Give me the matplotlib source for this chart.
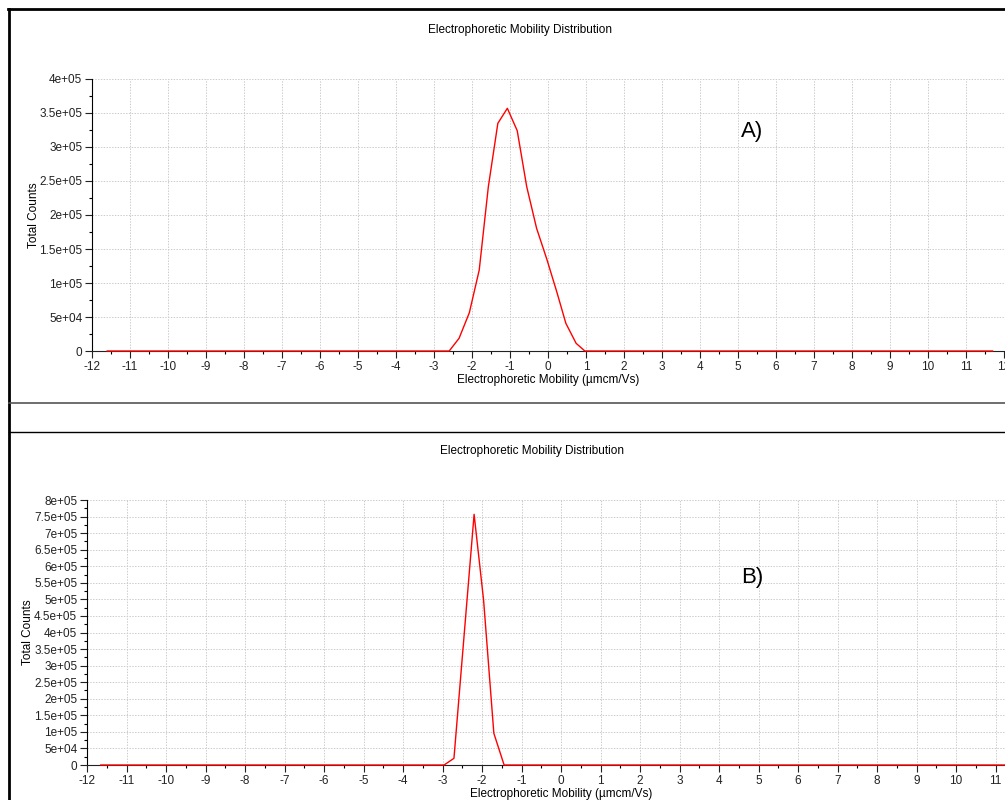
import numpy as np
import matplotlib
matplotlib.use("Agg")
import matplotlib.pyplot as plt
from matplotlib.ticker import MultipleLocator, FuncFormatter
from matplotlib.lines import Line2D

plt.rcParams['font.family'] = ['Liberation Sans', 'DejaVu Sans']

# data
top_x = [-11.6, -2.6, -2.34, -2.07, -1.81, -1.57, -1.32, -1.07, -0.81,
         -0.56, -0.30, -0.03, 0.23, 0.47, 0.74, 0.97, 11.7]
top_y = [0, 0, 18700, 56300, 119000, 241600, 334800, 356900, 324000,
         241600, 180400, 134800, 87200, 40700, 11300, 0, 0]

bot_x = [-11.65, -2.96, -2.71, -2.20, -1.96, -1.70, -1.44, 12.0]
bot_y = [0, 0, 20200, 756800, 498000, 95700, 0, 0]

title = "Electrophoretic Mobility Distribution"
xlabel = "Electrophoretic Mobility (\u00b5mcm/Vs)"
ylabel = "Total Counts"

W, H = 1005, 800
fig = plt.figure(figsize=(W / 100, H / 100), dpi=100)
fs = 8.5


def fmt(v, pos):
    if v == 0:
        return "0"
    return "{:.2g}".format(v)


def setup(ax, ymax, left_px, width_px, ylab_px):
    ax.set_xlim(-12, 12)
    ax.set_ylim(0, ymax)
    ax.xaxis.set_major_locator(MultipleLocator(1))
    ax.xaxis.set_minor_locator(MultipleLocator(0.5))
    ax.yaxis.set_major_locator(MultipleLocator(50000))
    ax.yaxis.set_minor_locator(MultipleLocator(25000))
    ax.yaxis.set_major_formatter(FuncFormatter(fmt))
    ax.xaxis.set_major_formatter(FuncFormatter(lambda v, p: "{:d}".format(int(round(v)))))
    for s in ['top', 'right']:
        ax.spines[s].set_visible(False)
    ax.spines['left'].set_color('black')
    ax.spines['bottom'].set_color('#222222')
    ax.tick_params(which='major', length=5, width=0.8, labelsize=fs, pad=2, colors='#222222')
    ax.tick_params(which='minor', length=2.5, width=0.8)
    ax.grid(True, which='major', linestyle=(0, (1.4, 1.4)), color='#cccccc', linewidth=0.72)
    ax.set_axisbelow(True)
    ax.set_xlabel(xlabel, fontsize=fs, labelpad=1)
    ax.set_ylabel(ylabel, fontsize=fs)
    ax.yaxis.set_label_coords((ylab_px - left_px) / width_px, 0.5)


# top panel
ax1 = fig.add_axes([92 / W, 1 - 351 / H, (1004 - 92) / W, 272 / H])
setup(ax1, 400000, 92, 1004 - 92, 40)
ax1.plot(top_x, top_y, color='#ff0000', lw=1, zorder=3, clip_on=False)
fig.text(520 / W, 1 - 30 / H, title, ha='center', va='center', fontsize=fs)
fig.text(752 / W, 1 - 132 / H, "A)", ha='center', va='center', fontsize=16)

# bottom panel
ax2 = fig.add_axes([87 / W, 1 - 765 / H, (1035 - 87) / W, 265 / H])
setup(ax2, 800000, 87, 1035 - 87, 34)
ax2.plot(bot_x, bot_y, color='#ff0000', lw=1, zorder=3, clip_on=False)
fig.text(532 / W, 1 - 451 / H, title, ha='center', va='center', fontsize=fs)
fig.text(752 / W, 1 - 578 / H, "B)", ha='center', va='center', fontsize=16)

# panel frames
fig.add_artist(Line2D([8 / W, 1], [1 - 9 / H, 1 - 9 / H], color='black', lw=2, transform=fig.transFigure))
fig.add_artist(Line2D([9 / W, 9 / W], [0, 1 - 9 / H], color='black', lw=2, transform=fig.transFigure))
fig.add_artist(Line2D([9 / W, 1], [1 - 403 / H, 1 - 403 / H], color='#555555', lw=1.2, transform=fig.transFigure))
fig.add_artist(Line2D([9 / W, 1], [1 - 432 / H, 1 - 432 / H], color='black', lw=1, transform=fig.transFigure))

fig.savefig("out.png", dpi=100)
